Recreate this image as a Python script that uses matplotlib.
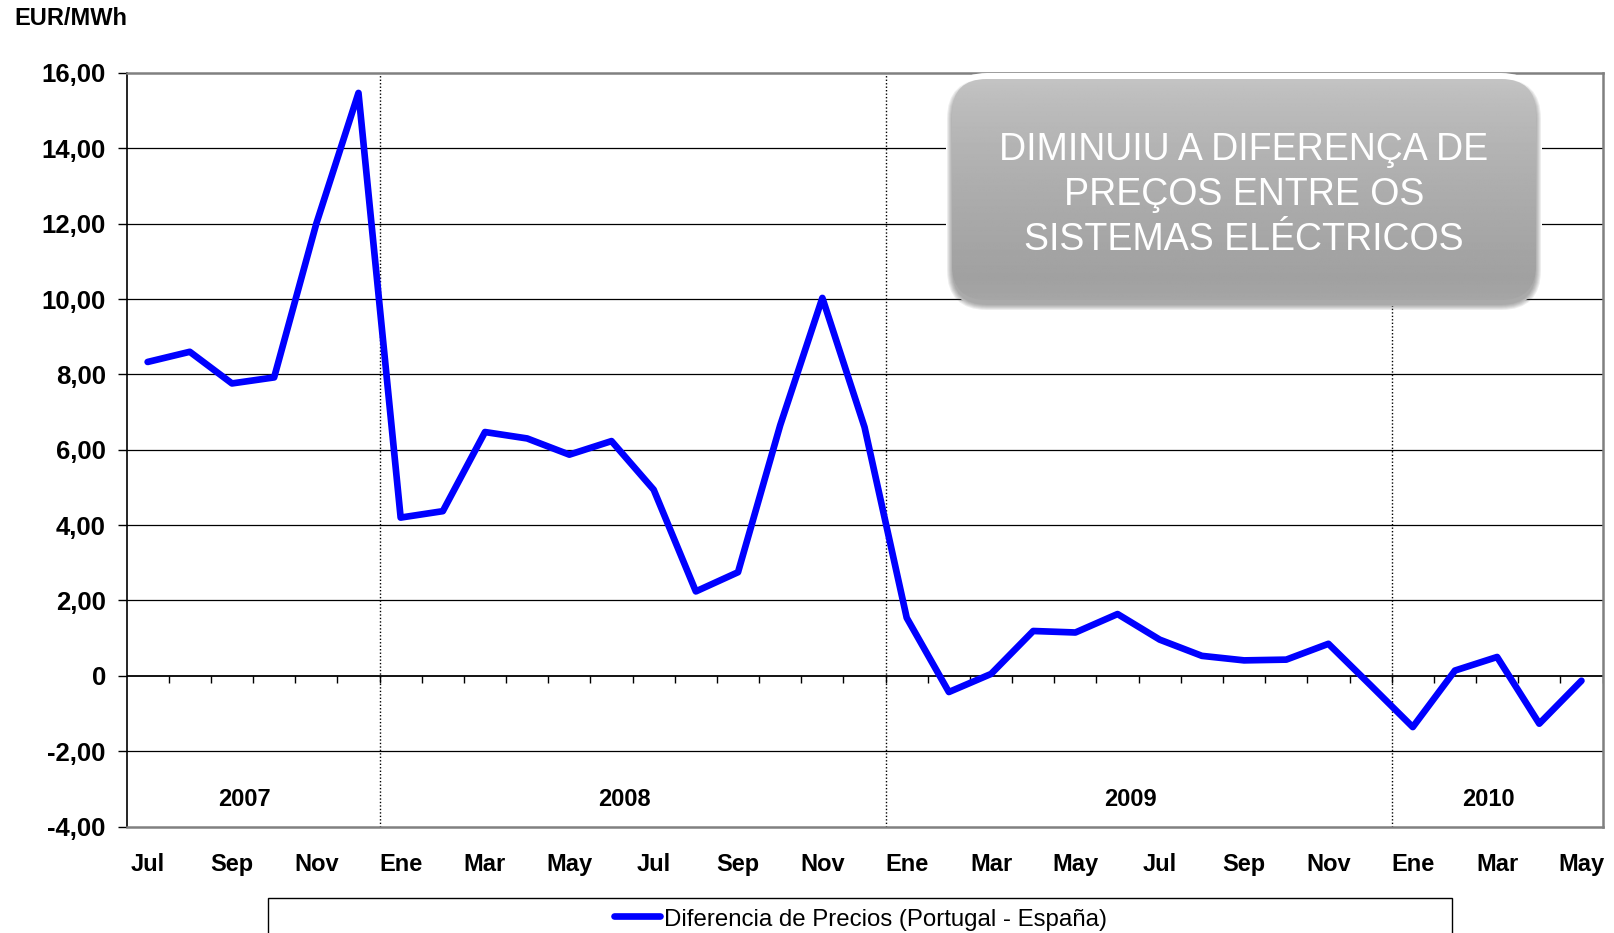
import numpy as np
import matplotlib
matplotlib.use("Agg")
import matplotlib.pyplot as plt
from matplotlib.patches import FancyBboxPatch, Rectangle
from matplotlib.lines import Line2D

# monthly price difference Portugal - Spain, Jul 2007 .. May 2010
months = ["Jul", "Ago", "Sep", "Oct", "Nov", "Dic",
          "Ene", "Feb", "Mar", "Abr", "May", "Jun", "Jul", "Ago", "Sep", "Oct", "Nov", "Dic",
          "Ene", "Feb", "Mar", "Abr", "May", "Jun", "Jul", "Ago", "Sep", "Oct", "Nov", "Dic",
          "Ene", "Feb", "Mar", "Abr", "May"]
diff = [8.33, 8.60, 7.76, 7.92, 12.00, 15.47,
        4.20, 4.37, 6.47, 6.30, 5.87, 6.23, 4.94, 2.24, 2.75, 6.65, 10.03, 6.60,
        1.54, -0.43, 0.05, 1.19, 1.15, 1.64, 0.96, 0.53, 0.41, 0.43, 0.85, -0.25,
        -1.36, 0.14, 0.50, -1.27, -0.13]
years = ["2007", "2008", "2009", "2010"]
months_per_year = [6, 12, 12, 5]
yticks = [-4, -2, 0, 2, 4, 6, 8, 10, 12, 14, 16]

series_label = "Diferencia de Precios (Portugal - España)"
note = "DIMINUIU A DIFERENÇA DE\nPREÇOS ENTRE OS\nSISTEMAS ELÉCTRICOS"

plt.rcParams["font.family"] = ["Liberation Sans", "DejaVu Sans"]

fig = plt.figure(figsize=(16.14, 9.33), dpi=100)
ax = fig.add_axes([0.0784, 0.1141, 0.9145, 0.8077])

x = np.arange(len(diff))
ax.set_xlim(-0.5, len(diff) - 0.5)
ax.set_ylim(yticks[0], yticks[-1])

# horizontal grid + zero axis
for yv in yticks[1:-1]:
    ax.axhline(yv, color="black", lw=1.3 if yv == 0 else 0.9, zorder=1)

# category ticks hanging from the zero line
bounds = np.arange(len(diff)) + 0.5
ax.vlines(bounds, -0.2, 0, color="black", lw=1, zorder=1)

# year separators and year labels
edges = np.cumsum([0] + months_per_year) - 0.5
for e in edges[1:-1]:
    ax.axvline(e, color="black", lw=1, ls=(0, (1, 1.5)), zorder=1)
for yr, a, b in zip(years, edges[:-1], edges[1:]):
    ax.text((a + b) / 2 - 0.2, -3.27, yr, ha="center", va="center",
            fontsize=17, fontweight="bold")

ax.plot(x, diff, color="#0000ff", lw=4.8, solid_joinstyle="round",
        solid_capstyle="round", zorder=3)

ax.set_yticks(yticks)
ax.set_yticklabels(["0" if v == 0 else f"{v:.2f}".replace(".", ",") for v in yticks],
                   fontsize=18.5, fontweight="bold")
ax.set_xticks(x[::2])
ax.set_xticklabels(months[::2], fontsize=17, fontweight="bold")
ax.tick_params(axis="x", length=0, pad=19)
ax.tick_params(axis="y", length=6.5, width=1, pad=8.4, direction="out")

for s in ["top", "right", "bottom"]:
    ax.spines[s].set_color("#808080")
    ax.spines[s].set_linewidth(1.8)
ax.spines["left"].set_color("black")
ax.spines["left"].set_linewidth(1.2)

fig.text(0.0089, 0.980, "EUR/MWh", ha="left", va="center",
         fontsize=17, fontweight="bold")

# callout box (rounded, grey gradient, soft shadow)
bx, by, bw, bh, r = 9.52, 6.33, 5.84, 2.21, 0.35
halo = FancyBboxPatch((bx - 0.06, by - 0.06), bw + 0.12, bh + 0.12,
                      boxstyle=f"round,pad=0,rounding_size={r + 0.06}",
                      transform=fig.dpi_scale_trans, fc="white", ec="none", zorder=1)
fig.add_artist(halo)
for k in range(6):
    g = 0.01 * k
    sh = FancyBboxPatch((bx - g, by - 0.05 - g), bw + 2 * g, bh + 2 * g,
                        boxstyle=f"round,pad=0,rounding_size={r + g}",
                        transform=fig.dpi_scale_trans, fc="#404040", ec="none",
                        alpha=0.09, zorder=1.1)
    fig.add_artist(sh)

box = FancyBboxPatch((bx, by), bw, bh, boxstyle=f"round,pad=0,rounding_size={r}",
                     transform=fig.dpi_scale_trans, fc="none", ec="none")
W, H = fig.get_size_inches()
bax = fig.add_axes([bx / W, by / H, bw / W, bh / H], zorder=2)
bax.axis("off")
t = np.linspace(0, 1, 256)[:, None]
grad = 0.77 - 0.15 * t ** 0.7 + 0.03 * np.clip((t - 0.9) / 0.1, 0, 1)
im = bax.imshow(np.repeat(grad, 4, axis=1), cmap="gray", vmin=0, vmax=1,
                extent=[0, 1, 0, 1], aspect="auto", interpolation="bilinear")
im.set_clip_path(box)
bax.set_xlim(0, 1)
bax.set_ylim(0, 1)
bax.text(0.5, 0.475, note, ha="center", va="center", color="white",
         fontsize=27, linespacing=1.32, transform=bax.transAxes)

# legend box at the bottom, cut by the figure edge
fig.add_artist(Rectangle((0.166, -0.05), 0.8996 - 0.166, 0.088,
                         transform=fig.transFigure, fc="white", ec="black", lw=1))
fig.add_artist(Line2D([614 / 1614, 660 / 1614], [1 - 916 / 933] * 2,
                      transform=fig.transFigure, color="#0000ff", lw=4.8,
                      solid_capstyle="round"))
fig.text(664 / 1614, 1 - 920 / 933, series_label, ha="left", va="center", fontsize=17.3)

fig.savefig("out.png", dpi=100)
